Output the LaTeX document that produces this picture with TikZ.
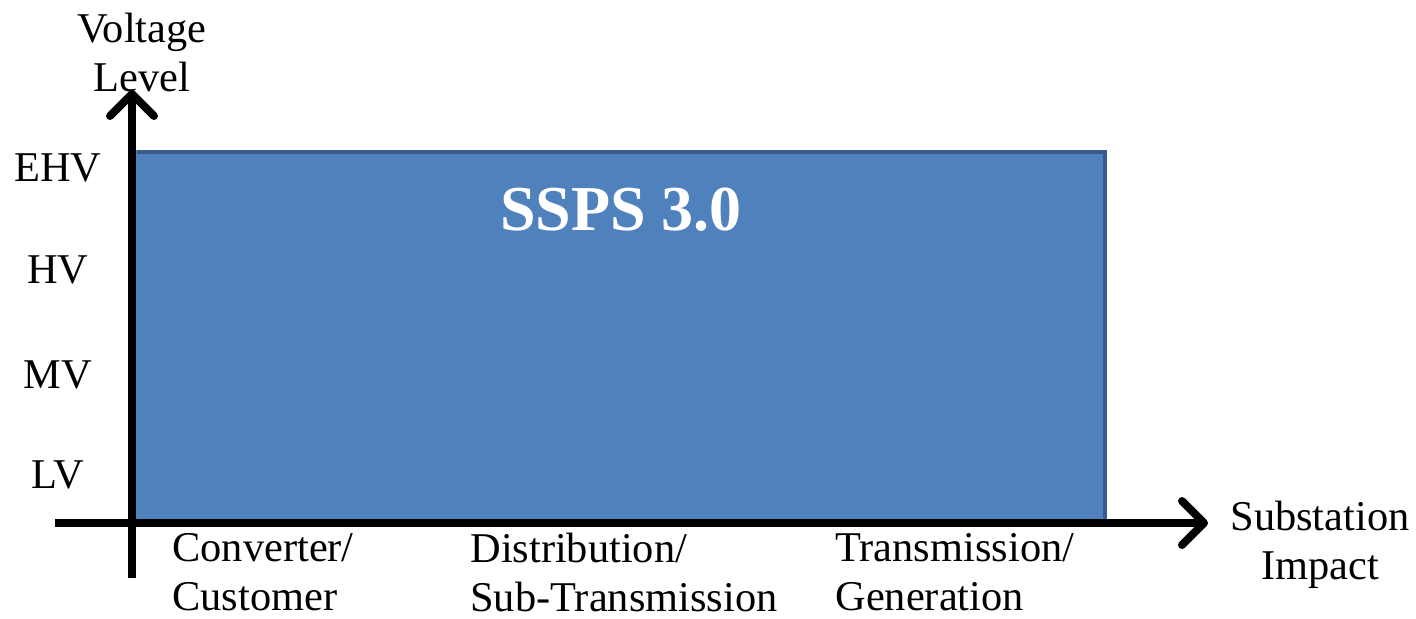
\documentclass[tikz,border=0pt]{standalone}
\usepackage{fontspec}
\setmainfont{Liberation Serif}
\usetikzlibrary{arrows.meta}
\definecolor{boxfill}{HTML}{4F81BD}
\definecolor{boxline}{HTML}{385D8A}
\begin{document}
\begin{tikzpicture}[x=0.5pt,y=-0.5pt,
  lbl/.style={font=\fontsize{21.2}{24.5}\selectfont, inner sep=0pt},
  axis/.style={line width=4pt, -{Straight Barb[length=11pt,width=22pt,line cap=round,line join=round]}}]
\useasboundingbox (0,0) rectangle (1416,618);
\fill[boxfill] (135,150) rectangle (1107,523);
\draw[boxline, line width=2pt] (137,152) -- (1105,152) -- (1105,521);
\node[font=\bfseries\fontsize{32}{36}\selectfont, text=white] (title) at (621,210) {SSPS 3.0};
\coordinate (vstart) at (132,578);
\coordinate (vend) at (132,90);
\coordinate (hstart) at (55,523);
\coordinate (hend) at (1208,523);
\draw[axis] (vstart) -- (vend);
\draw[axis] (hstart) -- (hend);
\node[lbl, align=center] (ylab) at (142,52) {Voltage\\Level};
\node[lbl] (ehv) at (58,168) {EHV};
\node[lbl] (hv) at (58,270) {HV};
\node[lbl] (mv) at (58,375) {MV};
\node[lbl] (lv) at (58,475) {LV};
\node[lbl, align=center] (xlab) at (1320,545) {Substation\\Impact};
\node[lbl, align=left, anchor=west] (c1) at (172,572) {Converter/\\Customer};
\node[lbl, align=left, anchor=west] (c2) at (470,572) {Distribution/\\Sub-Transmission};
\node[lbl, align=left, anchor=west] (c3) at (835,572) {Transmission/\\Generation};
\end{tikzpicture}
\end{document}
